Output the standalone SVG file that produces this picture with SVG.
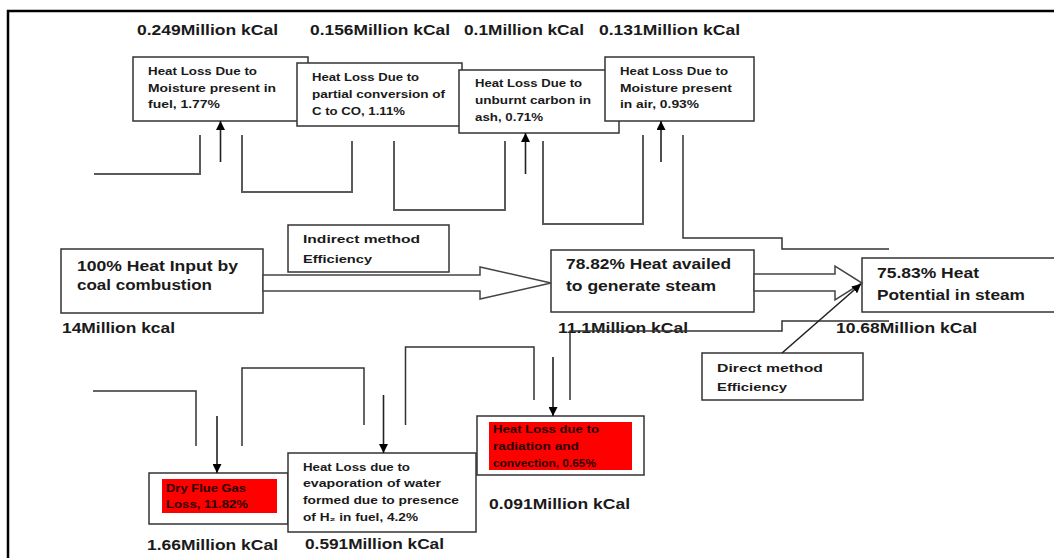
<svg xmlns="http://www.w3.org/2000/svg" width="1054" height="558" viewBox="0 0 1054 558">
<style>
text{font-family:"Liberation Sans",Arial,sans-serif;font-weight:bold;fill:#1a1a1a}
.s{font-size:10.5px}
.m{font-size:14px}
.e{font-size:11.5px}
.r{fill:#2a0000}
.box{fill:#fff;stroke:#333;stroke-width:1.5}
.red{fill:#ff0000}
.ln{fill:none;stroke:#5a5a5a;stroke-width:2}
.ln2{fill:none;stroke:#333;stroke-width:1.5}
.ar{fill:none;stroke:#222;stroke-width:1.6}
.big{fill:#fff;stroke:#444;stroke-width:1.5}
</style>
<defs>
<marker id="ah" markerUnits="userSpaceOnUse" markerWidth="10" markerHeight="9" refX="9" refY="4.5" orient="auto">
<path d="M0,0 L9,4.5 L0,9 z" fill="#000"/>
</marker>
</defs>
<rect width="1054" height="558" fill="#fff"/>
<path d="M8,560 V11 H1060" fill="none" stroke="#000" stroke-width="2.5"/>

<g id="top-values">
<text class="m" x="137" y="35" textLength="141" lengthAdjust="spacingAndGlyphs">0.249Million kCal</text>
<text class="m" x="310" y="35" textLength="140" lengthAdjust="spacingAndGlyphs">0.156Million kCal</text>
<text class="m" x="464" y="35" textLength="120" lengthAdjust="spacingAndGlyphs">0.1Million kCal</text>
<text class="m" x="599" y="35" textLength="141" lengthAdjust="spacingAndGlyphs">0.131Million kCal</text>
</g>

<g id="loss-moisture-fuel">
<rect class="box" x="133" y="57" width="175" height="64"/>
<text class="s" x="148" y="75" textLength="109" lengthAdjust="spacingAndGlyphs">Heat Loss Due to</text>
<text class="s" x="148" y="92" textLength="128" lengthAdjust="spacingAndGlyphs">Moisture present in</text>
<text class="s" x="148" y="108" textLength="72" lengthAdjust="spacingAndGlyphs">fuel, 1.77%</text>
</g>
<g id="loss-co">
<rect class="box" x="297" y="63" width="165" height="63"/>
<text class="s" x="312" y="81" textLength="107" lengthAdjust="spacingAndGlyphs">Heat Loss Due to</text>
<text class="s" x="312" y="98" textLength="133" lengthAdjust="spacingAndGlyphs">partial conversion of</text>
<text class="s" x="312" y="115" textLength="93" lengthAdjust="spacingAndGlyphs">C to CO, 1.11%</text>
</g>
<g id="loss-unburnt">
<rect class="box" x="459" y="70" width="160" height="63"/>
<text class="s" x="475" y="87" textLength="107" lengthAdjust="spacingAndGlyphs">Heat Loss Due to</text>
<text class="s" x="475" y="104" textLength="116" lengthAdjust="spacingAndGlyphs">unburnt carbon in</text>
<text class="s" x="475" y="121" textLength="68" lengthAdjust="spacingAndGlyphs">ash, 0.71%</text>
</g>
<g id="loss-moisture-air">
<rect class="box" x="605" y="57" width="149" height="64"/>
<text class="s" x="620" y="75" textLength="108" lengthAdjust="spacingAndGlyphs">Heat Loss Due to</text>
<text class="s" x="620" y="92" textLength="112" lengthAdjust="spacingAndGlyphs">Moisture present</text>
<text class="s" x="620" y="108" textLength="79" lengthAdjust="spacingAndGlyphs">in air, 0.93%</text>
</g>

<g id="indirect">
<rect class="box" x="288" y="225" width="161" height="47"/>
<text class="e" x="303" y="243" textLength="117" lengthAdjust="spacingAndGlyphs">Indirect method</text>
<text class="e" x="303" y="263" textLength="69" lengthAdjust="spacingAndGlyphs">Efficiency</text>
</g>

<g id="input">
<rect class="box" x="61" y="249" width="202" height="64"/>
<text class="m" x="77" y="271" textLength="161" lengthAdjust="spacingAndGlyphs">100% Heat Input by</text>
<text class="m" x="77" y="290" textLength="135" lengthAdjust="spacingAndGlyphs">coal combustion</text>
<text class="m" x="62" y="333" textLength="113" lengthAdjust="spacingAndGlyphs">14Million kcal</text>
</g>

<g id="availed">
<rect class="box" x="551" y="250" width="203" height="62"/>
<text class="m" x="566" y="269" textLength="165" lengthAdjust="spacingAndGlyphs">78.82% Heat availed</text>
<text class="m" x="566" y="291" textLength="150" lengthAdjust="spacingAndGlyphs">to generate steam</text>
<text class="m" x="558" y="333" textLength="130" lengthAdjust="spacingAndGlyphs">11.1Million kCal</text>
</g>

<g id="steam">
<rect class="box" x="862" y="258" width="210" height="54"/>
<text class="m" x="877" y="278" textLength="102" lengthAdjust="spacingAndGlyphs">75.83% Heat</text>
<text class="m" x="877" y="300" textLength="148" lengthAdjust="spacingAndGlyphs">Potential in steam</text>
<text class="m" x="836" y="333" textLength="141" lengthAdjust="spacingAndGlyphs">10.68Million kCal</text>
</g>

<g id="direct">
<rect class="box" x="702" y="353" width="161" height="47"/>
<text class="e" x="717" y="372" textLength="106" lengthAdjust="spacingAndGlyphs">Direct method</text>
<text class="e" x="717" y="391" textLength="70" lengthAdjust="spacingAndGlyphs">Efficiency</text>
</g>

<g id="loss-dry-flue">
<rect class="box" x="149" y="473" width="139" height="51"/>
<rect class="red" x="162" y="479" width="115" height="34"/>
<text class="s r" x="166" y="492" textLength="80" lengthAdjust="spacingAndGlyphs">Dry Flue Gas</text>
<text class="s r" x="166" y="508" textLength="82" lengthAdjust="spacingAndGlyphs">Loss, 11.82%</text>
<text class="m" x="147" y="550" textLength="131" lengthAdjust="spacingAndGlyphs">1.66Million kCal</text>
</g>

<g id="loss-evaporation">
<rect class="box" x="288" y="453" width="188" height="79"/>
<text class="s" x="303" y="471" textLength="107" lengthAdjust="spacingAndGlyphs">Heat Loss due to</text>
<text class="s" x="303" y="487" textLength="138" lengthAdjust="spacingAndGlyphs">evaporation of water</text>
<text class="s" x="303" y="504" textLength="156" lengthAdjust="spacingAndGlyphs">formed due to presence</text>
<text class="s" x="303" y="521" textLength="115" lengthAdjust="spacingAndGlyphs">of H₂ in fuel, 4.2%</text>
<text class="m" x="305" y="549" textLength="139" lengthAdjust="spacingAndGlyphs">0.591Million kCal</text>
</g>

<g id="loss-radiation">
<rect class="box" x="477" y="416" width="167" height="59"/>
<rect class="red" x="489" y="422" width="143" height="48"/>
<text class="s r" x="493" y="433" textLength="106" lengthAdjust="spacingAndGlyphs">Heat Loss due to</text>
<text class="s r" x="493" y="450" textLength="86" lengthAdjust="spacingAndGlyphs">radiation and</text>
<text class="s r" x="493" y="467" textLength="103" lengthAdjust="spacingAndGlyphs">convection, 0.65%</text>
<text class="m" x="489" y="509" textLength="141" lengthAdjust="spacingAndGlyphs">0.091Million kCal</text>
</g>

<g id="connectors">
<polygon class="big" points="263,275 480,275 480,267 551,283 480,299 480,291 263,291"/>
<polygon class="big" points="754,274 835,274 835,266 862,283 835,300 835,291 754,291"/>
<polyline class="ln" points="94,174 200,174 200,135"/>
<polyline class="ln" points="242,135 242,192 352,192 352,141"/>
<polyline class="ln" points="394,141 394,210 505,210 505,141"/>
<polyline class="ln" points="543,141 543,224 643,224 643,135"/>
<polyline class="ln2" points="683,135 683,238 782,238 782,249 889,249"/>
<polyline class="ln2" points="570,400 570,331 782,331 782,321 889,321"/>
<polyline class="ln2" points="93,391 196,391 196,446"/>
<polyline class="ln2" points="242,446 242,368 364,368 364,425"/>
<polyline class="ln2" points="405.5,425 405.5,347 534,347 534,400"/>
<line class="ar" x1="220.5" y1="162" x2="220.5" y2="121" marker-end="url(#ah)"/>
<line class="ar" x1="525.5" y1="174" x2="525.5" y2="133" marker-end="url(#ah)"/>
<line class="ar" x1="661" y1="162" x2="661" y2="121" marker-end="url(#ah)"/>
<line class="ar" x1="217" y1="416" x2="217" y2="473" marker-end="url(#ah)"/>
<line class="ar" x1="383.5" y1="395" x2="383.5" y2="453" marker-end="url(#ah)"/>
<line class="ar" x1="553" y1="357" x2="553" y2="416" marker-end="url(#ah)"/>
<line class="ar" x1="782" y1="353" x2="861" y2="284" stroke-width="1.2" marker-end="url(#ah)"/>
</g>
</svg>
